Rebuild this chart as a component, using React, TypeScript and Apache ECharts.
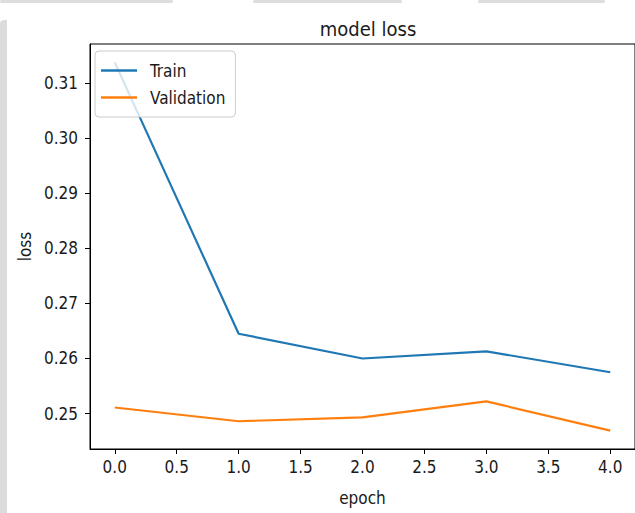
import React, { useEffect, useRef } from "react";
import * as echarts from "echarts";

const epochs = [0, 1, 2, 3, 4];
const trainLoss = [0.3138, 0.2645, 0.26, 0.2613, 0.2575];
const valLoss = [0.2511, 0.2486, 0.2493, 0.2522, 0.2469];
const xTicks = [0, 0.5, 1, 1.5, 2, 2.5, 3, 3.5, 4];
const yTicks = [0.25, 0.26, 0.27, 0.28, 0.29, 0.3, 0.31];
const seriesNames = ["Train", "Validation"];

const FONT = "DejaVu Sans Condensed, DejaVu Sans, sans-serif";

export default function App() {
  const ref = useRef<HTMLDivElement>(null);
  useEffect(() => {
    if (!ref.current) return;
    const chart = echarts.init(ref.current, null, { renderer: "svg" });
    const allVals = trainLoss.concat(valLoss);
    const lo = Math.min(...allVals);
    const hi = Math.max(...allVals);
    const pad = (hi - lo) * 0.05;
    const xPad = (epochs[epochs.length - 1] - epochs[0]) * 0.05;
    chart.setOption({
      animation: false,
      backgroundColor: "#ffffff",
      title: {
        text: "model loss",
        left: 363,
        top: 14,
        textAlign: "center",
        textStyle: { fontFamily: FONT, fontSize: 20, fontWeight: "normal", color: "#1a1a1a" },
      },
      graphic: [
        { type: "rect", shape: { x: 0, y: 20, width: 7, height: 493, r: [4, 0, 0, 0] }, style: { fill: "#dcdcdc" }, z: 100 },
        { type: "rect", shape: { x: 0, y: 0, width: 173, height: 3, r: 2 }, style: { fill: "#dddddd" }, z: 100 },
        { type: "rect", shape: { x: 253, y: 0, width: 149, height: 3, r: 2 }, style: { fill: "#dddddd" }, z: 100 },
        { type: "rect", shape: { x: 478, y: 0, width: 127, height: 3, r: 2 }, style: { fill: "#dddddd" }, z: 100 },
      ],
      legend: {
        data: seriesNames.map((n) => ({ name: n, icon: "rect" })),
        orient: "vertical",
        left: 95,
        top: 51,
        itemWidth: 36,
        itemHeight: 2.5,
        itemGap: 10,
        padding: [11, 10, 11, 6],
        backgroundColor: "rgba(255,255,255,0.8)",
        borderColor: "#cccccc",
        borderWidth: 1,
        borderRadius: 4,
        textStyle: { fontFamily: FONT, fontSize: 17, lineHeight: 17, color: "#1a1a1a", padding: [0, 0, 0, 8] },
      },
      grid: {
        left: 90,
        top: 44,
        width: 546,
        height: 405,
        show: true,
        borderColor: "#000",
        borderWidth: 1,
        containLabel: false,
      },
      xAxis: {
        type: "value",
        min: epochs[0] - xPad,
        max: epochs[epochs.length - 1] + xPad,
        name: "epoch",
        nameLocation: "middle",
        nameGap: 40,
        nameTextStyle: { fontFamily: FONT, fontSize: 17, color: "#1a1a1a" },
        splitLine: { show: false },
        axisLine: { show: true, onZero: false, lineStyle: { color: "#000", width: 1 } },
        axisTick: { show: true, inside: false, length: 5, customValues: xTicks, lineStyle: { color: "#000" } },
        axisLabel: {
          customValues: xTicks,
          formatter: (v: number) => v.toFixed(1),
          fontFamily: FONT,
          fontSize: 17,
          color: "#1a1a1a",
          margin: 9,
        },
      },
      yAxis: {
        type: "value",
        min: lo - pad,
        max: hi + pad,
        name: "loss",
        nameLocation: "middle",
        nameRotate: 90,
        nameGap: 57,
        nameTextStyle: { fontFamily: FONT, fontSize: 17, color: "#1a1a1a" },
        splitLine: { show: false },
        axisLine: { show: true, onZero: false, lineStyle: { color: "#000", width: 1 } },
        axisTick: { show: true, inside: false, length: 5, customValues: yTicks, lineStyle: { color: "#000" } },
        axisLabel: {
          customValues: yTicks,
          formatter: (v: number) => v.toFixed(2),
          fontFamily: FONT,
          fontSize: 17,
          color: "#1a1a1a",
          margin: 12,
        },
      },
      series: [
        {
          name: seriesNames[0],
          type: "line",
          data: epochs.map((e, i) => [e, trainLoss[i]]),
          showSymbol: false,
          lineStyle: { color: "#1f77b4", width: 2.2 },
          itemStyle: { color: "#1f77b4" },
        },
        {
          name: seriesNames[1],
          type: "line",
          data: epochs.map((e, i) => [e, valLoss[i]]),
          showSymbol: false,
          lineStyle: { color: "#ff7f0e", width: 2.2 },
          itemStyle: { color: "#ff7f0e" },
        },
      ],
    });
    return () => chart.dispose();
  }, []);
  return (
    <div
      ref={ref}
      style={{ position: "fixed", left: 0, top: 0, width: 635, height: 513, background: "#fff" }}
    />
  );
}
